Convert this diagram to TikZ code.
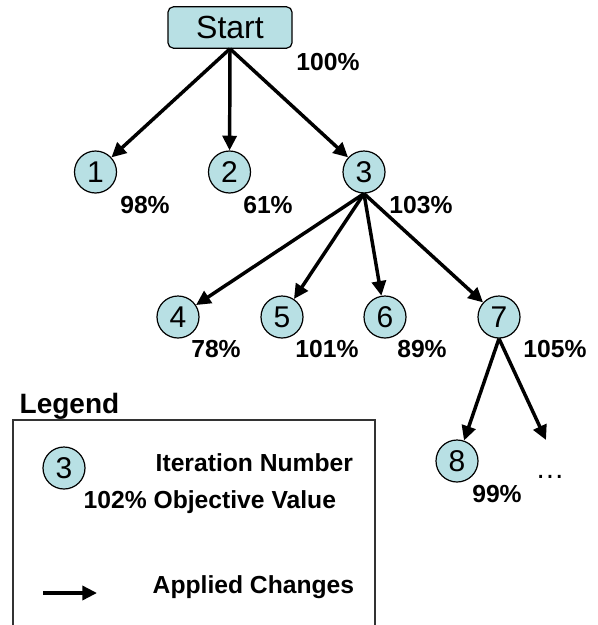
\documentclass[tikz,border=0pt]{standalone}
\usepackage{fontspec}
\setmainfont{Liberation Sans}
\usetikzlibrary{arrows.meta}
\definecolor{iterfill}{RGB}{184,224,228}
\begin{document}
\begin{tikzpicture}[x=0.75pt,y=-0.75pt,
  iter/.style={circle,draw,line width=0.9pt,fill=iterfill,minimum size=31.5pt,inner sep=0pt,font=\fontsize{22.5}{24}\selectfont},
  pct/.style={anchor=base,font=\fontsize{18.5}{20}\selectfont\bfseries},
  leg/.style={anchor=base west,font=\fontsize{18.5}{20}\selectfont\bfseries},
  chg/.style={line width=2.6pt,-{Triangle[length=11pt,width=10.5pt]}}]
  \useasboundingbox (0,0) rectangle (597,625);
  % tree
  \node[draw,line width=0.9pt,fill=iterfill,rounded corners=4pt,minimum width=93pt,minimum height=31pt,inner sep=0pt,font=\fontsize{24}{26}\selectfont] (start) at (230,27.5) {Start};
  \node[pct] (p0) at (328,70) {100\%};
  \node[iter] (n1) at (95.5,172) {1};
  \node[iter] (n2) at (229.5,172) {2};
  \node[iter] (n3) at (364,172) {3};
  \node[pct] (p1) at (145,213) {98\%};
  \node[pct] (p2) at (268,213) {61\%};
  \node[pct] (p3) at (421,213) {103\%};
  \node[iter] (n4) at (178,317) {4};
  \node[iter] (n5) at (282,317) {5};
  \node[iter] (n6) at (385,317) {6};
  \node[iter] (n7) at (499,317) {7};
  \node[pct] (p4) at (216,357) {78\%};
  \node[pct] (p5) at (327,357) {101\%};
  \node[pct] (p6) at (422,357) {89\%};
  \node[pct] (p7) at (555,357) {105\%};
  \node[iter] (n8) at (457,461) {8};
  \node[pct] (p8) at (497,502) {99\%};
  \node[anchor=base,font=\fontsize{22}{24}\selectfont] (more) at (550,478) {…};
  \coordinate (moreend) at (546,440);
  \foreach \n in {n1,n2,n3} \draw[chg] (start.south) -- (\n);
  \foreach \n in {n4,n5,n6,n7} \draw[chg] (n3.south) -- (\n);
  \draw[chg] (n7.south) -- (n8);
  \draw[chg] (n7.south) -- (moreend);
  % legend
  \node[anchor=base west,font=\fontsize{21}{23}\selectfont\bfseries] (legtitle) at (15,413) {Legend};
  \draw[line width=0.8pt,black!80] (13,625) |- (375,420) -- (375,625);
  \node[iter] (legiter) at (64,468) {3};
  \node[leg] (legnum) at (151,471) {Iteration Number};
  \node[leg] (legobj) at (79,508) {102\% Objective Value};
  \coordinate (arrstart) at (43,593);
  \coordinate (arrend) at (97,593);
  \draw[chg] (arrstart) -- (arrend);
  \node[leg] (legchg) at (148,593) {Applied Changes};
\end{tikzpicture}
\end{document}
